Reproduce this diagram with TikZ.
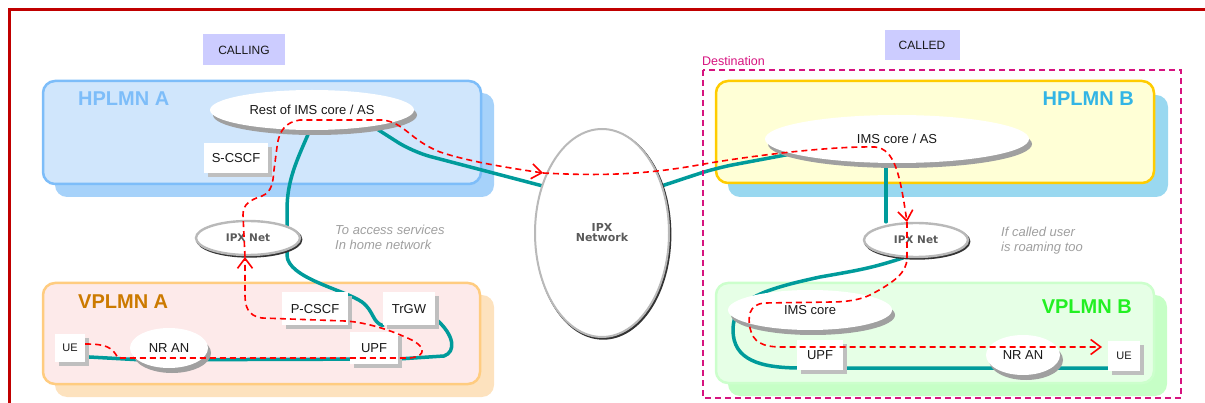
\documentclass[tikz,border=0pt]{standalone}
\usepackage{fontspec}
\setmainfont{Liberation Sans}
\newfontfamily\ipxfont{DejaVu Sans}
\usetikzlibrary{shapes.geometric,arrows.meta}
\newcommand\myfs[1]{\fontsize{#1}{#1}\selectfont}
\definecolor{borderred}{HTML}{C00000}
\definecolor{tealc}{HTML}{009B9B}
\definecolor{sigred}{HTML}{FF0000}
\definecolor{destc}{HTML}{D6137F}
\definecolor{callbg}{HTML}{CCCCFF}
\definecolor{hAfill}{HTML}{D0E6FC}
\definecolor{hAborder}{HTML}{7DBDF9}
\definecolor{hAshadow}{HTML}{A6D2FA}
\definecolor{hAtext}{HTML}{7DBDF9}
\definecolor{hBfill}{HTML}{FFFFD6}
\definecolor{hBborder}{HTML}{FFCC00}
\definecolor{hBshadow}{HTML}{99D8F0}
\definecolor{hBtext}{HTML}{33B5E5}
\definecolor{vAfill}{HTML}{FDEAEA}
\definecolor{vAborder}{HTML}{FFCC80}
\definecolor{vAshadow}{HTML}{FDE2BE}
\definecolor{vAtext}{HTML}{CC7A00}
\definecolor{vBfill}{HTML}{E6FFE6}
\definecolor{vBborder}{HTML}{CCFFCC}
\definecolor{vBshadow}{HTML}{C6FFC6}
\definecolor{vBtext}{HTML}{22F022}
\definecolor{boxshadow}{HTML}{BFBFBF}
\definecolor{ellshadow}{HTML}{A0A0A0}
\definecolor{ipxtext}{HTML}{5A5A5A}
\pgfdeclarelayer{bg}
\pgfdeclarelayer{mid}
\pgfsetlayers{bg,mid,main}
\tikzset{
  region/.style={rounded corners=12pt, line width=2.5pt},
  regshadow/.style={rounded corners=12pt},
  reglabel/.style={font=\bfseries\myfs{20}, anchor=west, inner sep=0},
  tealline/.style={draw=tealc, line width=3.5pt, line cap=round, line join=round},
  sig/.style={draw=sigred, line width=1.6pt, dash pattern=on 6pt off 4pt},
  sigtip/.style={-{Straight Barb[length=10pt,width=15pt,line width=1.6pt]}},
  nbox/.style={rectangle, fill=white, inner sep=0, font=\myfs{13}, text=black!90,
    preaction={fill=boxshadow, transform canvas={shift={(4pt,-4pt)}}}},
  ell/.style={ellipse, fill=white, inner sep=0, font=\myfs{13}, text=black!90,
    preaction={fill=ellshadow, transform canvas={shift={(3pt,-5pt)}}}},
  ipxell/.style={ellipse, fill=white, draw=gray!55, line width=2.4pt, inner sep=0,
    font=\ipxfont\bfseries\myfs{10.5}, text=ipxtext, align=center,
    preaction={draw=gray!40!black, line width=2.4pt, transform canvas={shift={(1.2pt,-1.5pt)}}}},
  tag/.style={fill=callbg, inner sep=0, font=\myfs{12}, text=black!90},
  note/.style={font=\itshape\myfs{13}, text=gray!75, align=left, anchor=west, inner sep=0},
}
\begin{document}
\begin{tikzpicture}[x=1pt,y=-1pt]
\useasboundingbox (0,0) rectangle (1205,403);
% outer frame
\draw[line width=3pt, draw=borderred] (9,405) -- (9,10) -- (1207,10);

% regions
\begin{pgfonlayer}{bg}
\fill[regshadow, hAshadow] (55,93) rectangle (494,197);
\draw[region, draw=hAborder, fill=hAfill] (43,81) rectangle (481,184);
\fill[regshadow, vAshadow] (55,295) rectangle (494,397);
\draw[region, draw=vAborder, fill=vAfill] (43,283) rectangle (480,384);
\fill[regshadow, hBshadow] (728,95) rectangle (1168,197);
\draw[region, draw=hBborder, fill=hBfill] (716,81) rectangle (1154,183);
\fill[regshadow, vBshadow] (728,295) rectangle (1167,396);
\draw[region, draw=vBborder, fill=vBfill] (716,283) rectangle (1154,383);
\end{pgfonlayer}

\node[reglabel, text=hAtext] (lhA) at (78,99) {HPLMN A};
\node[reglabel, text=vAtext] (lvA) at (78,302) {VPLMN A};
\node[reglabel, text=hBtext, anchor=east] (lhB) at (1134,99) {HPLMN B};
\node[reglabel, text=vBtext, anchor=east] (lvB) at (1132,307) {VPLMN B};

% tags
\node[tag, minimum width=82, minimum height=31] (calling) at (244,50) {CALLING};
\node[tag, minimum width=75, minimum height=30] (called) at (922,45) {CALLED};
\node[font=\myfs{12.5}, text=destc, anchor=west, inner sep=0] (destl) at (702,61) {Destination};
\draw[draw=destc, line width=1.5pt, dash pattern=on 6pt off 4pt] (703,70) rectangle (1181,398);

% nodes
\node[ell, minimum width=204, minimum height=40] (restA) at (312,110) {Rest of IMS core / AS};
\node[nbox, minimum width=64, minimum height=30] (scscf) at (236,158) {S-CSCF};
\node[ipxell, minimum width=104, minimum height=34] (ipxA) at (248,238) {IPX Net};
\node[nbox, minimum width=66, minimum height=33] (pcscf) at (315,309) {P-CSCF};
\node[nbox, minimum width=52, minimum height=33] (trgw) at (409,309) {TrGW};
\node[nbox, minimum width=48, minimum height=32] (upfA) at (374,348) {UPF};
\node[nbox, minimum width=30, minimum height=28, font=\myfs{11}] (ueA) at (70,348) {UE};
\node[ell, minimum width=78, minimum height=40] (nrA) at (169,348) {NR AN};

\node[ipxell, minimum width=134, minimum height=208, line width=2pt, font=\ipxfont\bfseries\myfs{11}] (ipxN) at (602,233) {IPX\\[-1pt]Network};

\node[ell, minimum width=264, minimum height=48] (imsB) at (897,139) {IMS core / AS};
\node[ipxell, minimum width=104, minimum height=34] (ipxB) at (916,240) {IPX Net};
\node[ell, minimum width=164, minimum height=40] (imsVB) at (810,310) {IMS core};
\node[nbox, minimum width=46, minimum height=30] (upfB) at (820,355) {UPF};
\node[ell, minimum width=74, minimum height=40] (nrB) at (1023,355) {NR AN};
\node[nbox, minimum width=32, minimum height=30, font=\myfs{11}] (ueB) at (1124,356) {UE};

% notes
\node[note] (noteA) at (335,237) {To access services\\[2pt]In home network};
\node[note] (noteB) at (1001,241) {If called user\\[2pt]is roaming too};

% teal bearer lines
\begin{pgfonlayer}{mid}
\draw[tealline] (restA.-96) .. controls (297,160) and (287,180) .. (287,210) -- (287,255)
  .. controls (287,278) and (345,290) .. (362,302) .. controls (374,311) and (372,322) .. (trgw.south west);
\draw[tealline] (trgw.-20) .. controls (455,335) and (456,352) .. (444,356) -- (upfA.east |- 0,359)
  -- (nrA.-20) -- (nrA.200) -- (ueA.-30);
\draw[tealline, rounded corners=18pt] (restA.-15) -- (413,152) -- (ipxN.142);
\draw[tealline, rounded corners=18pt] (ipxN.38) -- (716,168) -- (imsB.-172);
\draw[tealline] (imsB.south -| 886,0) -- (ipxB.north -| 886,0);
\draw[tealline] (ipxB.-125) .. controls (872,268) and (860,270) .. (820,277)
  .. controls (760,290) and (733,300) .. (733,330) .. controls (733,360) and (760,368) .. (801,368)
  -- (ueB.west |- 0,368);
\end{pgfonlayer}

% signalling path
\coordinate (a1) at (245,257);
\coordinate (a2) at (543,173);
\coordinate (a3) at (907,222);
\coordinate (a4) at (1102,347);
\draw[sig, sigtip] (ueA.east |- 0,344) .. controls (106,344) and (112,347) .. (118,358) -- (410,358)
  .. controls (428,356) and (426,345) .. (405,337) .. controls (390,330) and (365,322) .. (345,321)
  -- (262,318) .. controls (247,316) and (245,305) .. (245,295) -- (a1);
\draw[sig, sigtip] (a1) -- (243,215) .. controls (243,204) and (250,200) .. (262,196)
  .. controls (272,192) and (273,182) .. (274,170) -- (277,147)
  .. controls (279,130) and (286,122) .. (300,120) -- (383,120)
  .. controls (405,123) and (410,140) .. (440,152) .. controls (470,162) and (510,168) .. (a2);
\draw[sig, sigtip] (a2) .. controls (600,176) and (645,175) .. (704,164)
  .. controls (750,156) and (830,146) .. (875,147) .. controls (895,149) and (900,175) .. (a3);
\draw[sig, sigtip] (a3) -- (907,258) .. controls (907,272) and (895,282) .. (870,295)
  .. controls (860,300) and (845,302) .. (832,302) -- (765,303)
  .. controls (748,304) and (748,318) .. (750,328) .. controls (753,342) and (762,347) .. (782,347)
  -- (a4);
\end{tikzpicture}
\end{document}
